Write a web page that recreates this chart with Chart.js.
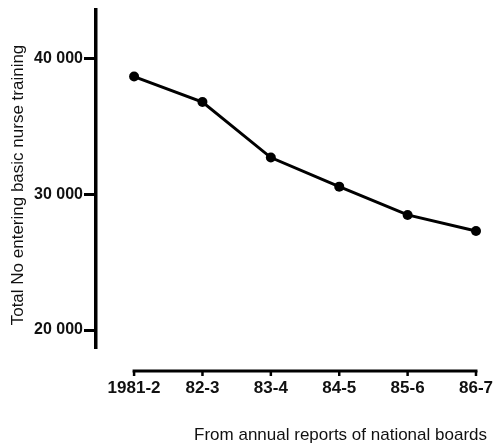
<!DOCTYPE html>
<html>
<head>
<meta charset="utf-8">
<style>
  html, body { margin: 0; padding: 0; background: #fff; }
  #wrap { width: 494px; height: 444px; }
</style>
<script src="https://cdn.jsdelivr.net/npm/chart.js@4/dist/chart.umd.min.js"></script>
</head>
<body>
<div id="wrap"><canvas id="c" width="494" height="444"></canvas></div>
<script>
const categories = ['1981-2', '82-3', '83-4', '84-5', '85-6', '86-7'];
const entrants = [38650, 36780, 32690, 30550, 28470, 27290];
const yTicks = [20000, 30000, 40000];
const yTitle = 'Total No entering basic nurse training';
const footer = 'From annual reports of national boards';

const FONT = 'Liberation Sans, Arial, sans-serif';
const fmt = v => String(v).replace(/\B(?=(\d{3})+(?!\d))/g, ' ');

const xAxisLine = {
  id: 'xAxisLine',
  afterDraw(chart) {
    const ctx = chart.ctx, xs = chart.scales.x;
    const y = chart.chartArea.bottom + 24;
    const x0 = xs.getPixelForValue(0), x1 = xs.getPixelForValue(categories.length - 1);
    ctx.save();
    ctx.strokeStyle = '#000';
    ctx.lineWidth = 3;
    ctx.lineCap = 'butt';
    ctx.beginPath();
    ctx.moveTo(x0 - 1.5, y);
    ctx.lineTo(x1 + 1.5, y);
    ctx.stroke();
    ctx.lineWidth = 2.5;
    categories.forEach((c, i) => {
      const x = xs.getPixelForValue(i);
      ctx.beginPath();
      ctx.moveTo(x, y);
      ctx.lineTo(x, y + 5);
      ctx.stroke();
    });
    ctx.restore();
  }
};

const yTitlePlugin = {
  id: 'yTitlePlugin',
  afterDraw(chart) {
    const ctx = chart.ctx, ys = chart.scales.y;
    const cy = (ys.getPixelForValue(ys.max) + ys.getPixelForValue(ys.min)) / 2 + 6.5;
    ctx.save();
    ctx.translate(18.5, cy);
    ctx.rotate(-Math.PI / 2);
    ctx.fillStyle = '#111';
    ctx.font = 'normal 17px ' + FONT;
    ctx.textAlign = 'center';
    ctx.textBaseline = 'middle';
    ctx.fillText(yTitle, 0, 0);
    ctx.restore();
  }
};

new Chart(document.getElementById('c'), {
  type: 'line',
  data: {
    datasets: [{
      data: entrants.map((v, i) => ({ x: i, y: v })),
      borderColor: '#000',
      backgroundColor: '#000',
      borderWidth: 3,
      pointRadius: 5,
      pointBackgroundColor: '#000',
      pointBorderColor: '#000',
      pointBorderWidth: 0,
      tension: 0,
      clip: false
    }]
  },
  options: {
    responsive: false,
    animation: false,
    devicePixelRatio: 1,
    layout: { padding: { top: 10, right: 7, bottom: 0, left: 0 } },
    plugins: {
      legend: { display: false },
      tooltip: { enabled: false },
      title: {
        display: true,
        text: footer,
        position: 'bottom',
        align: 'end',
        color: '#111',
        font: { family: FONT, size: 17, weight: 'normal', lineHeight: 1 },
        padding: { top: 10, bottom: 0 }
      }
    },
    scales: {
      x: {
        type: 'linear',
        min: -0.557,
        max: 5.161,
        afterFit(s) { s.height = 70; s.paddingLeft = 0; s.paddingRight = 0; },
        afterBuildTicks(s) { s.ticks = categories.map((c, i) => ({ value: i })); },
        grid: { display: false, drawTicks: false },
        border: { display: false },
        ticks: {
          autoSkip: false,
          maxRotation: 0,
          padding: 31,
          color: '#111',
          font: { family: FONT, size: 17, weight: 'bold' },
          callback: v => categories[v]
        }
      },
      y: {
        min: 18750,
        max: 43550,
        afterFit(s) { s.width = 96; s.paddingTop = 0; s.paddingBottom = 0; },
        afterBuildTicks(s) { s.ticks = yTicks.map(v => ({ value: v })); },
        grid: { drawOnChartArea: false, drawTicks: true, tickLength: 12, lineWidth: 3, color: '#000' },
        border: { display: true, width: 3.5, color: '#000' },
        ticks: {
          padding: 1,
          color: '#111',
          font: { family: FONT, size: 16, weight: 'bold' },
          callback: v => fmt(v)
        },
        title: { display: false }
      }
    }
  },
  plugins: [xAxisLine, yTitlePlugin]
});
</script>
</body>
</html>
